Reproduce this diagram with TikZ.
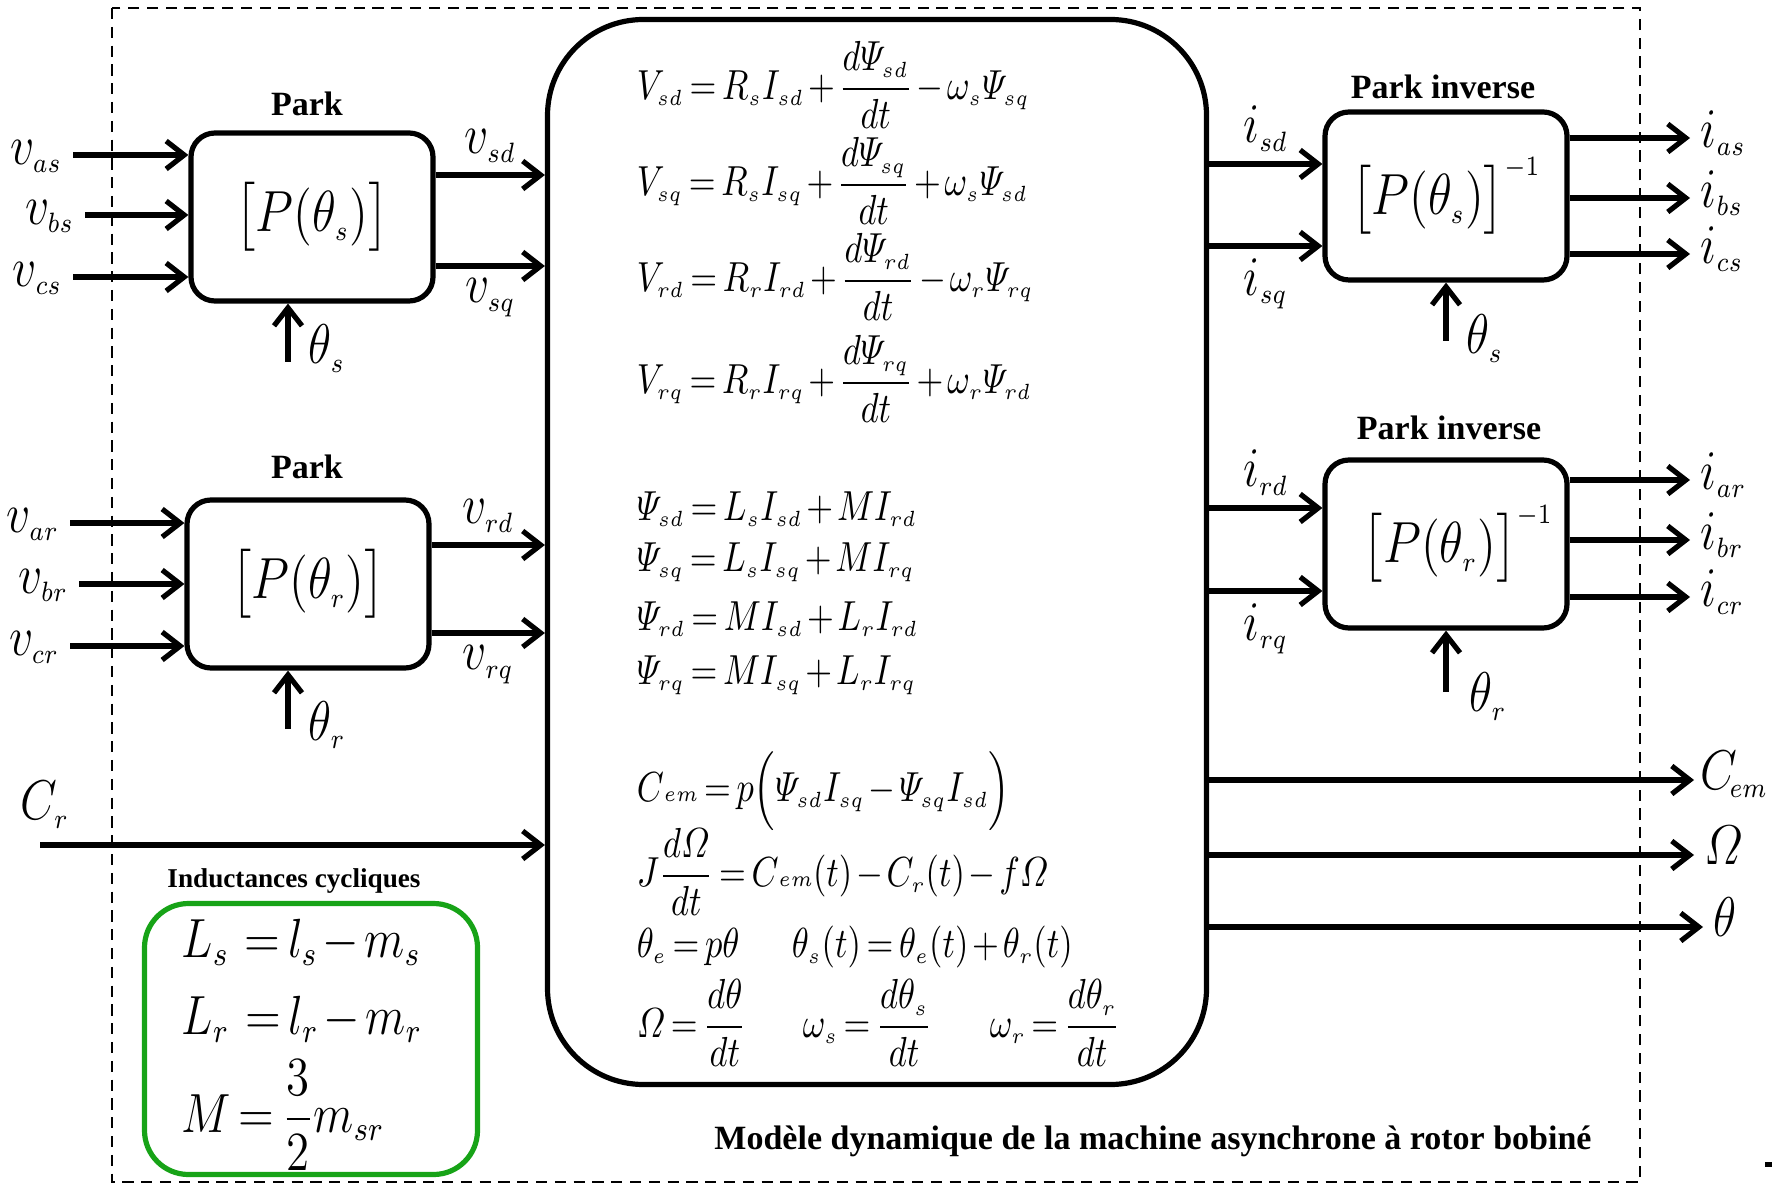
\documentclass[tikz,border=0pt]{standalone}
\usepackage{fix-cm}
\usepackage{amsmath}
\usepackage[no-math]{fontspec}
\setmainfont{Liberation Serif}
\usetikzlibrary{arrows.meta, calc}
\definecolor{IndGreen}{HTML}{17A317}
\DeclareMathSizes{14}{14}{7}{5.5}
\DeclareMathSizes{14.5}{14.5}{7}{5.5}
\DeclareMathSizes{10.5}{10.5}{5.5}{4.5}
\DeclareMathSizes{13.8}{13.8}{8.5}{6.5}
\thickmuskip=3mu plus 1mu
\medmuskip=2mu plus 1mu
% formules un peu resserrees
\newcommand{\nmath}[2][0.85]{\scalebox{#1}[1]{$#2$}}

\begin{document}
\begin{tikzpicture}[
    x=0.25pt, y=-0.25pt,
    >={Straight Barb[length=4.5pt,width=7pt]},
    blk/.style={draw, line width=1.3pt, rounded corners=6pt, inner sep=0pt,
                minimum width=60.5pt, minimum height=42pt,
                font=\fontsize{14.5}{17}\selectfont},
    lab/.style={font=\fontsize{14}{17}\selectfont, inner sep=2.5pt},
    eq/.style={anchor=west, inner sep=0pt, font=\fontsize{10.5}{13}\selectfont},
    geq/.style={anchor=west, inner sep=0pt, font=\fontsize{13.8}{16}\selectfont},
    ttl/.style={font=\fontsize{8.5}{10}\selectfont\bfseries},
    a/.style={->, line width=1.3pt},
    frame/.style={line width=0.65pt, dash pattern=on 2.8pt off 1.9pt},
  ]
  \useasboundingbox (0,0) rectangle (1772,1184);
  \draw[frame] (112,8) rectangle (1640,1182);

  % blocs
  \node[draw, line width=1.3pt, rounded corners=24pt, minimum width=164.75pt,
        minimum height=266.25pt] (mach) at (877,552) {};
  \node[blk] (ps)  at (312,217)  {\nmath{\bigl[P(\theta_s)\bigr]}};
  \node[blk] (pr)  at (308,584)  {\nmath{\bigl[P(\theta_r)\bigr]}};
  \node[blk] (pis) at (1446,196) {\nmath{\bigl[P(\theta_s)\bigr]^{-1}}};
  \node[blk] (pir) at (1446,544) {\hspace{6pt}\nmath{\bigl[P(\theta_r)\bigr]^{-1}}};
  \node[draw=IndGreen, line width=1.3pt, rounded corners=11pt, minimum width=83.25pt,
        minimum height=67.75pt] (ind) at (311,1039) {};

  \node[ttl] (tps)  at (307,104)  {Park};
  \node[ttl] (tpr)  at (307,467)  {Park};
  \node[ttl] (tpis) at (1443,87)  {Park inverse};
  \node[ttl] (tpir) at (1449,428) {Park inverse};
  \node[font=\fontsize{6.8}{8}\selectfont\bfseries] (tind) at (294,881) {Inductances cycliques};
  \node[ttl] (capt) at (1153,1141) {Modèle dynamique de la machine asynchrone à rotor bobiné};

  % entrees stator / rotor
  \node[lab, anchor=mid east] (vas) at (73,155) {\nmath{v_{as}}};
  \node[lab, anchor=mid east] (vbs) at (85,215) {\nmath{v_{bs}}};
  \node[lab, anchor=mid east] (vcs) at (73,277) {\nmath{v_{cs}}};
  \node[lab, anchor=mid east] (var) at (70,523) {\nmath{v_{ar}}};
  \node[lab, anchor=mid east] (vbr) at (79,584) {\nmath{v_{br}}};
  \node[lab, anchor=mid east] (vcr) at (70,646) {\nmath{v_{cr}}};
  \foreach \n in {vas,vbs,vcs}
    \draw[a] (\n.mid east) -- (\n.mid east -| ps.west);
  \foreach \n in {var,vbr,vcr}
    \draw[a] (\n.mid east) -- (\n.mid east -| pr.west);

  \coordinate (vsd-o) at ($(ps.east)+(0,-42)$);
  \coordinate (vsq-o) at ($(ps.east)+(0,49)$);
  \coordinate (vrd-o) at ($(pr.east)+(0,-39)$);
  \coordinate (vrq-o) at ($(pr.east)+(0,49)$);
  \draw[a] (vsd-o) -- node[lab, above] (vsd) {\nmath{v_{sd}}} (vsd-o -| mach.west);
  \draw[a] (vsq-o) -- node[lab, below] (vsq) {\nmath{v_{sq}}} (vsq-o -| mach.west);
  \draw[a] (vrd-o) -- node[lab, above] (vrd) {\nmath{v_{rd}}} (vrd-o -| mach.west);
  \draw[a] (vrq-o) -- node[lab, below] (vrq) {\nmath{v_{rq}}} (vrq-o -| mach.west);

  \coordinate (ths-in) at (288,362);
  \coordinate (thr-in) at (288,729);
  \draw[a] (ths-in) -- (ths-in |- ps.south);
  \draw[a] (thr-in) -- (thr-in |- pr.south);
  \node[lab, anchor=base west] (ths) at (298,364) {\nmath{\theta_s}};
  \node[lab, anchor=base west] (thr) at (298,740) {\nmath{\theta_r}};

  \coordinate (cr-in) at (40,845);
  \node[lab] (cr) at (45,805) {\nmath{C_r}};
  \draw[a] (cr-in) -- (cr-in -| mach.west);

  % equations du modele
  \node[eq] (e1) at (636,85)  {\nmath[0.82]{V_{sd}=R_sI_{sd}+\dfrac{d\varPsi_{sd}}{dt}-\omega_s\varPsi_{sq}}};
  \node[eq] (e2) at (636,181) {\nmath[0.82]{V_{sq}=R_sI_{sq}+\dfrac{d\varPsi_{sq}}{dt}+\omega_s\varPsi_{sd}}};
  \node[eq] (e3) at (636,277) {\nmath[0.82]{V_{rd}=R_rI_{rd}+\dfrac{d\varPsi_{rd}}{dt}-\omega_r\varPsi_{rq}}};
  \node[eq] (e4) at (636,379) {\nmath[0.82]{V_{rq}=R_rI_{rq}+\dfrac{d\varPsi_{rq}}{dt}+\omega_r\varPsi_{rd}}};
  \node[eq] (e5) at (636,509) {\nmath[0.82]{\varPsi_{sd}=L_sI_{sd}+MI_{rd}}};
  \node[eq] (e6) at (636,562) {\nmath[0.82]{\varPsi_{sq}=L_sI_{sq}+MI_{rq}}};
  \node[eq] (e7) at (636,619) {\nmath[0.82]{\varPsi_{rd}=MI_{sd}+L_rI_{rd}}};
  \node[eq] (e8) at (636,675) {\nmath[0.82]{\varPsi_{rq}=MI_{sq}+L_rI_{rq}}};
  \node[eq] (e9) at (636,791) {\nmath[0.82]{C{\scriptstyle em}=p\Bigl(\varPsi_{sd}I_{sq}-\varPsi_{sq}I_{sd}\Bigr)}};
  \node[eq] (e10) at (636,872) {\nmath[0.82]{J\dfrac{d\varOmega}{dt}=C{\scriptstyle em}(t)-C_r(t)-f\varOmega}};
  \node[eq] (e11a) at (636,947) {\nmath[0.82]{\theta_e=p\theta}};
  \node[eq] (e11b) at (791,947) {\nmath[0.82]{\theta_s(t)=\theta_e(t)+\theta_r(t)}};
  \node[eq] (e12a) at (636,1023) {\nmath[0.82]{\varOmega=\dfrac{d\theta}{dt}}};
  \node[eq] (e12b) at (802,1023) {\nmath[0.82]{\omega_s=\dfrac{d\theta_s}{dt}}};
  \node[eq] (e12c) at (989,1023) {\nmath[0.82]{\omega_r=\dfrac{d\theta_r}{dt}}};

  % inductances cycliques
  \node[geq] (g1) at (181,942)  {\nmath{L_s\,=l_s-m_s}};
  \node[geq] (g2) at (181,1019) {\nmath{L_r\,=l_r-m_r}};
  \node[geq] (g3) at (181,1115) {\nmath{M=\dfrac{3}{2}m_{sr}}};

  % sorties : Park inverse
  \coordinate (isd-i) at ($(pis.west)+(0,-32)$);
  \coordinate (isq-i) at ($(pis.west)+(0,50)$);
  \coordinate (ird-i) at ($(pir.west)+(0,-36)$);
  \coordinate (irq-i) at ($(pir.west)+(0,47)$);
  \draw[a] (isd-i -| mach.east) -- node[lab, above] (isd) {\nmath{i_{sd}}} (isd-i);
  \draw[a] (isq-i -| mach.east) -- node[lab, below] (isq) {\nmath{i_{sq}}} (isq-i);
  \draw[a] (ird-i -| mach.east) -- node[lab, above] (ird) {\nmath{i_{rd}}} (ird-i);
  \draw[a] (irq-i -| mach.east) -- node[lab, below] (irq) {\nmath{i_{rq}}} (irq-i);

  \node[lab, anchor=mid west] (ias) at (1690,138) {\nmath{i_{as}}};
  \node[lab, anchor=mid west] (ibs) at (1690,198) {\nmath{i_{bs}}};
  \node[lab, anchor=mid west] (ics) at (1690,254) {\nmath{i_{cs}}};
  \node[lab, anchor=mid west] (iar) at (1690,480) {\nmath{i_{ar}}};
  \node[lab, anchor=mid west] (ibr) at (1690,540) {\nmath{i_{br}}};
  \node[lab, anchor=mid west] (icr) at (1690,597) {\nmath{i_{cr}}};
  \foreach \n in {ias,ibs,ics}
    \draw[a] (\n.mid west -| pis.east) -- (\n.mid west);
  \foreach \n in {iar,ibr,icr}
    \draw[a] (\n.mid west -| pir.east) -- (\n.mid west);

  \coordinate (this-in) at (1446,341);
  \coordinate (thir-in) at (1446,692);
  \draw[a] (this-in) -- (this-in |- pis.south);
  \draw[a] (thir-in) -- (thir-in |- pir.south);
  \node[lab, anchor=base west] (this) at (1456,354) {\nmath{\theta_s}};
  \node[lab, anchor=base west] (thir) at (1459,712) {\nmath{\theta_r}};

  % grandeurs mecaniques
  \node[lab, anchor=mid west, inner sep=1.5pt] (cem) at (1694,780) {\nmath{C_{\!em}}};
  \node[lab, anchor=mid west] (om)  at (1694,855) {\nmath{\varOmega}};
  \node[lab, anchor=mid west] (th)  at (1703,927) {\nmath{\theta}};
  \foreach \n in {cem,om,th}
    \draw[a] (\n.mid west -| mach.east) -- (\n.mid west);

  \fill (1765,1162) rectangle (1772,1167);
\end{tikzpicture}
\end{document}
